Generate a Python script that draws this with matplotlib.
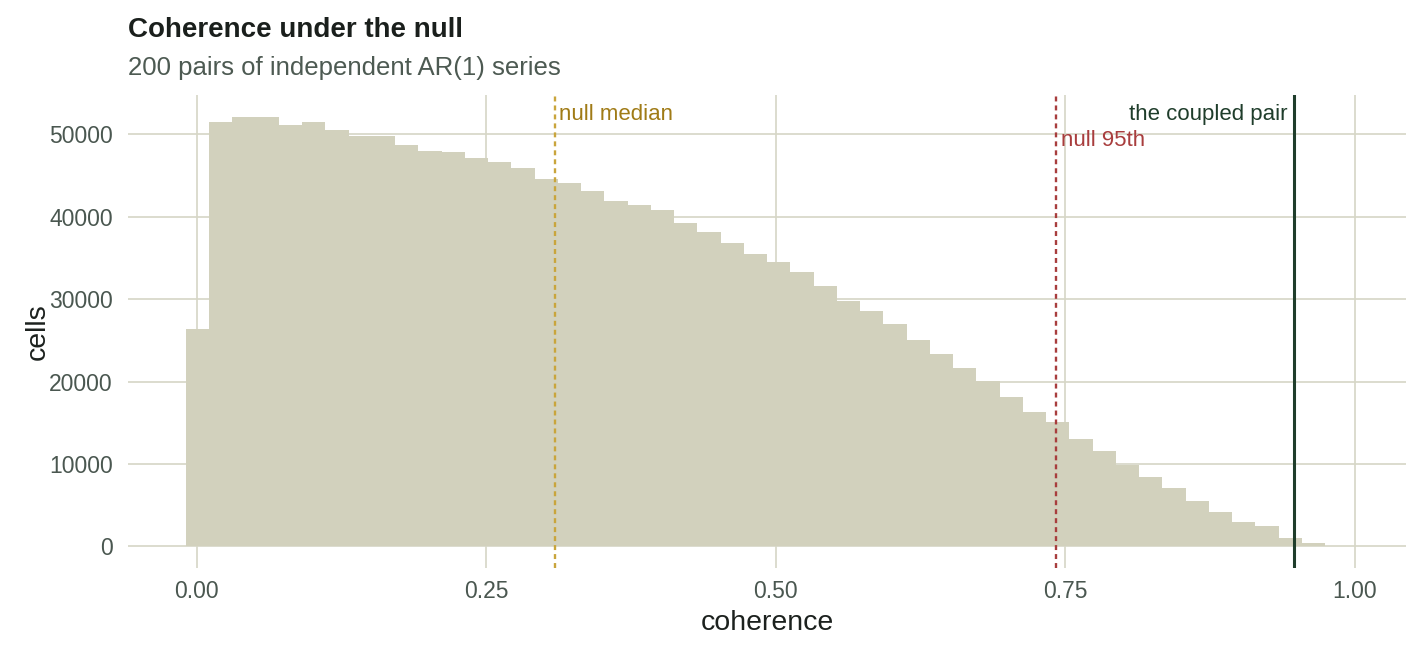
import matplotlib
matplotlib.use("Agg")
import matplotlib.pyplot as plt
import numpy as np

# histogram counts, one per bin (bin width ~0.02)
counts = [26420, 51540, 52060, 52180, 51210, 51460, 50570, 49760, 49760, 48670,
          47940, 47820, 47090, 46720, 45950, 44620, 44170, 43200, 41870, 41460,
          40780, 39200, 38190, 36850, 35520, 34550, 33330, 31630, 29810, 28600,
          27020, 25080, 23380, 21720, 20100, 18170, 16340, 15130, 13070, 11610,
          9950, 8450, 7120, 5540, 4210, 3000, 2430, 1090, 400]
bin_start = -0.0093
bin_width = 0.02007

null_median = 0.309
null_95 = 0.742
coupled = 0.9475

xticks = [0.0, 0.25, 0.5, 0.75, 1.0]
xticklabels = ["0.00", "0.25", "0.50", "0.75", "1.00"]
yticks = [0, 10000, 20000, 30000, 40000, 50000]

plt.rcParams['font.family'] = ['Liberation Sans', 'DejaVu Sans']

W, H = 1420, 652
fig = plt.figure(figsize=(W / 100, H / 100), dpi=100)
ax = fig.add_axes([128 / W, 1 - 568 / H, (1406 - 128) / W, (568 - 95) / H])

grid_col = "#d6d6c6"
ax.set_axisbelow(True)
ax.grid(True, color=grid_col, linewidth=1.2)
for s in ax.spines.values():
    s.set_visible(False)
ax.tick_params(length=0, labelsize=16.5, labelcolor="#4a5750")
ax.tick_params(axis="y", pad=11)
ax.tick_params(axis="x", pad=9)

edges = bin_start + bin_width * np.arange(len(counts) + 1)
ax.bar(edges[:-1], counts, width=bin_width, align="edge", color="#d2d1bd",
       linewidth=0)

ax.axvline(null_median, color="#c9a53c", lw=1.7, ls=(0, (2.1, 1.7)))
ax.axvline(null_95, color="#a83d3d", lw=1.7, ls=(0, (2.1, 1.7)))
ax.axvline(coupled, color="#1f3d2b", lw=2.2)

trans = ax.get_xaxis_transform()
ax.text(null_median + 0.004, 0.98, "null median", transform=trans, ha="left",
        va="top", color="#a07b16", fontsize=16)
ax.text(null_95 + 0.004, 0.925, "null 95th", transform=trans, ha="left",
        va="top", color="#a83d3d", fontsize=16)
ax.text(coupled - 0.006, 0.98, "the coupled pair", transform=trans, ha="right",
        va="top", color="#1f3d2b", fontsize=16)

ax.set_xlim(-0.0593, 1.044)
ax.set_ylim(-2610, 54790)
ax.set_xticks(xticks)
ax.set_xticklabels(xticklabels)
ax.set_yticks(yticks)
ax.set_yticklabels([str(v) for v in yticks])

ax.set_xlabel("coherence", fontsize=20.5, color="#1c211e", labelpad=5)
ax.set_ylabel("cells", fontsize=20.5, color="#1c211e", labelpad=-1)

fig.text(128 / W, 1 - 37 / H, "Coherence under the null", fontsize=20,
         fontweight="bold", color="#1a1f1c", ha="left", va="baseline")
fig.text(128 / W, 1 - 75 / H, "200 pairs of independent AR(1) series",
         fontsize=18.5, color="#4d5a52", ha="left", va="baseline")

fig.savefig("out.png", dpi=100)
